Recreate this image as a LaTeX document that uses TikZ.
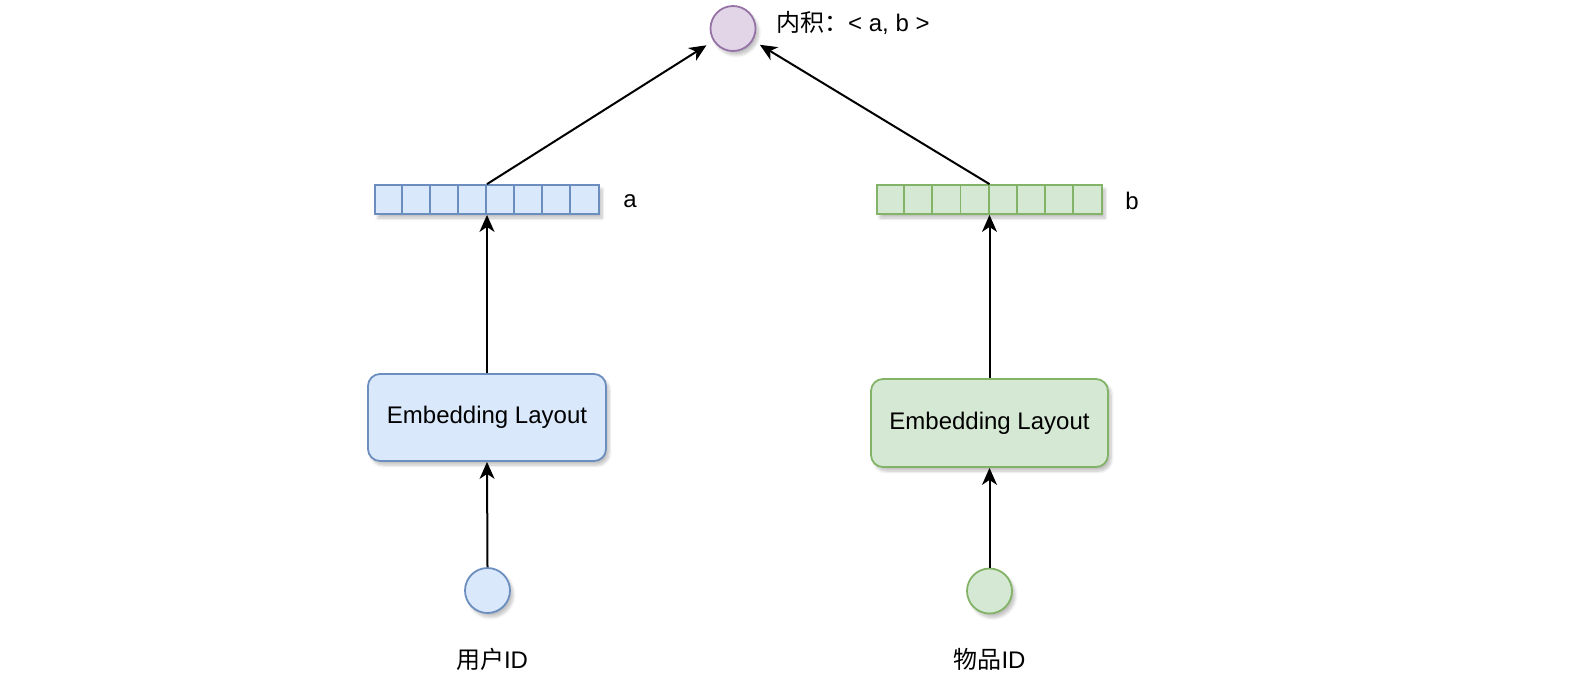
\documentclass[tikz,border=0pt]{standalone}
\usepackage{fontspec}
\setmainfont{Liberation Sans}
\newfontfamily\cjk{Noto Sans CJK SC}
\usetikzlibrary{arrows.meta,shadows.blur}
\definecolor{bfill}{HTML}{DAE8FC}
\definecolor{bline}{HTML}{6C8EBF}
\definecolor{gfill}{HTML}{D5E8D4}
\definecolor{gline}{HTML}{82B366}
\definecolor{pfill}{HTML}{E1D5E7}
\definecolor{pline}{HTML}{9673A6}
\tikzset{
  shad/.style={blur shadow={shadow xshift=3pt,shadow yshift=-4pt,shadow blur steps=6,shadow blur radius=3pt,shadow opacity=25}},
  blue/.style={fill=bfill,draw=bline},
  green/.style={fill=gfill,draw=gline},
  circ/.style={circle,minimum size=45pt,inner sep=0pt,line width=1.8pt,shad},
  vec/.style={rectangle,minimum height=29pt,inner sep=0pt,line width=1.8pt,shad},
  emb/.style={rectangle,rounded corners=12pt,line width=1.8pt,shad,font=\fontsize{24}{28}\selectfont},
  lbl/.style={font=\fontsize{24}{28}\selectfont,inner sep=0pt},
  arr/.style={line width=2pt,-{Stealth[length=17pt,width=15pt,inset=5pt]}},
}
\begin{document}
\begin{tikzpicture}[x=1pt,y=-1pt]
\useasboundingbox (0,0) rectangle (1576,678);
% top
\node[circ,fill=pfill,draw=pline] (top) at (733,28.5) {};
\node[lbl,anchor=west] (toplbl) at (776,23) {{\cjk 内积：}< a, b >};
% vectors
\node[vec,blue,minimum width=224pt] (vecA) at (487,199.5) {};
\foreach \i in {1,...,7} \draw[bline,line width=1.8pt] ([xshift=\i*28pt]vecA.north west) -- ([xshift=\i*28pt]vecA.south west);
\node[vec,green,minimum width=225pt] (vecB) at (989.5,199.5) {};
\foreach \i in {1,...,7} \draw[gline,line width=1.8pt] ([xshift=\i*28.125pt]vecB.north west) -- ([xshift=\i*28.125pt]vecB.south west);
\node[lbl] (la) at (630,201) {a};
\node[lbl] (lb) at (1132,201) {b};
% embedding boxes
\node[emb,blue,minimum width=238pt,minimum height=87pt] (embA) at (487,417.5) {Embedding Layout};
\node[emb,green,minimum width=237pt,minimum height=88pt] (embB) at (989.5,423) {Embedding Layout};
% inputs
\node[circ,blue] (inA) at (487.5,590.5) {};
\node[circ,green] (inB) at (989.5,591) {};
\node[lbl] (labA) at (492,659) {{\cjk 用户}ID};
\node[lbl] (labB) at (989.5,659) {{\cjk 物品}ID};
% arrows
\draw[arr] (inA.north) -- (embA.south);
\draw[arr] (inB.north) -- (embB.south);
\draw[arr] (embA.north) -- (vecA.south);
\draw[arr] (embB.north) -- (vecB.south);
\draw[arr,shorten >=8pt] (vecA.north) -- (top);
\draw[arr,shorten >=8pt] (vecB.north) -- (top);
\end{tikzpicture}
\end{document}
